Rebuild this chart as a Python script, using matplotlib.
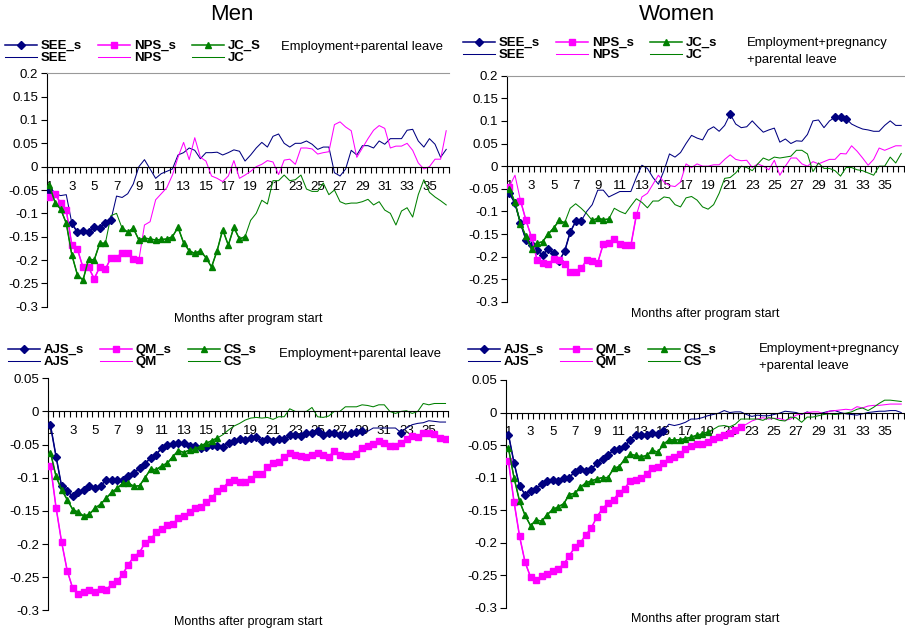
import numpy as np
import matplotlib.pyplot as plt
from matplotlib.ticker import FixedLocator, FuncFormatter

plt.rcParams['font.family'] = ['Liberation Sans', 'DejaVu Sans']

# 72 half-month steps, labelled every second month
n_pts = 72
tick_idx = list(range(0, 69, 4))
tick_lab = [str(m) for m in range(1, 36, 2)]

# ---- Men, employment + parental leave (top) ----
see_m = [-0.053, -0.058, -0.062, -0.060, -0.121, -0.141, -0.137, -0.139, -0.129, -0.131, -0.120, -0.114,
         -0.063, -0.066, -0.058, -0.037, 0.000, 0.015, -0.005, -0.025, -0.015, -0.010, -0.005, 0.025,
         0.030, 0.040, 0.035, 0.017, 0.030, 0.030, 0.031, 0.025, 0.030, 0.036, 0.033, 0.012,
         0.025, 0.040, 0.052, 0.042, 0.065, 0.070, 0.050, 0.042, 0.050, 0.050, 0.055, 0.048,
         0.037, 0.042, 0.042, -0.013, -0.020, -0.005, 0.035, 0.025, 0.045, 0.045, 0.040, 0.055,
         0.048, 0.060, 0.060, 0.060, 0.078, 0.080, 0.055, 0.042, 0.060, 0.048, 0.020, 0.037]
nps_m = [-0.066, -0.059, -0.078, -0.093, -0.168, -0.177, -0.216, -0.216, -0.240, -0.215, -0.220, -0.195,
         -0.195, -0.184, -0.184, -0.198, -0.200, -0.125, -0.118, -0.071, -0.058, -0.045, -0.018, 0.020,
         0.052, 0.015, 0.062, 0.020, 0.012, -0.020, -0.025, -0.032, -0.020, 0.013, -0.025, -0.018,
         -0.010, 0.000, 0.005, 0.013, 0.010, -0.017, 0.014, 0.016, 0.005, 0.040, 0.040, 0.038,
         0.027, 0.030, 0.032, 0.090, 0.096, 0.085, 0.077, 0.020, 0.040, 0.060, 0.078, 0.088,
         0.082, 0.040, 0.044, 0.044, 0.050, 0.035, 0.008, -0.005, 0.000, 0.016, 0.016, 0.077]
jc_m = [-0.040, -0.077, -0.091, -0.121, -0.189, -0.232, -0.243, -0.198, -0.200, -0.164, -0.164, -0.105,
        -0.100, -0.132, -0.140, -0.132, -0.157, -0.153, -0.155, -0.157, -0.156, -0.155, -0.150, -0.130,
        -0.163, -0.180, -0.186, -0.180, -0.195, -0.215, -0.180, -0.135, -0.168, -0.130, -0.155, -0.150,
        -0.115, -0.100, -0.072, -0.080, -0.030, -0.030, -0.018, -0.030, -0.028, -0.018, -0.048, -0.053,
        -0.053, -0.035, -0.060, -0.050, -0.075, -0.080, -0.078, -0.078, -0.075, -0.070, -0.082, -0.075,
        -0.093, -0.100, -0.125, -0.095, -0.088, -0.108, -0.060, -0.028, -0.055, -0.065, -0.073, -0.082]
see_m_sig = [(0, 0), (4, 11)]
nps_m_sig = [(0, 16)]
jc_m_sig = [(0, 10), (13, 35)]

# ---- Women, employment + pregnancy + parental leave (top) ----
see_w = [-0.060, -0.082, -0.126, -0.163, -0.174, -0.186, -0.196, -0.183, -0.192, -0.209, -0.188, -0.146,
         -0.122, -0.121, -0.100, -0.085, -0.053, -0.053, -0.068, -0.062, -0.056, -0.056, -0.056, -0.025,
         0.002, -0.005, -0.025, -0.040, -0.010, 0.027, 0.020, 0.030, 0.050, 0.068, 0.062, 0.058,
         0.080, 0.087, 0.077, 0.090, 0.115, 0.093, 0.085, 0.087, 0.100, 0.087, 0.075, 0.080,
         0.084, 0.053, 0.060, 0.050, 0.056, 0.055, 0.070, 0.100, 0.102, 0.085, 0.100, 0.108,
         0.108, 0.105, 0.093, 0.087, 0.082, 0.080, 0.077, 0.077, 0.090, 0.100, 0.090, 0.090]
nps_w = [-0.045, -0.020, -0.076, -0.120, -0.157, -0.207, -0.213, -0.217, -0.205, -0.208, -0.215, -0.233,
         -0.233, -0.226, -0.207, -0.210, -0.213, -0.172, -0.170, -0.160, -0.172, -0.175, -0.175, -0.108,
         -0.068, -0.060, -0.040, -0.020, -0.035, -0.043, -0.045, -0.035, 0.005, -0.003, 0.005, 0.000,
         0.000, 0.003, 0.003, 0.015, 0.025, 0.015, 0.012, 0.013, -0.003, 0.005, 0.000, -0.008,
         0.013, -0.020, 0.000, 0.018, 0.018, 0.005, 0.000, 0.010, 0.005, 0.010, 0.015, 0.015,
         0.028, 0.027, 0.045, 0.033, 0.018, 0.002, 0.015, 0.040, 0.035, 0.040, 0.045, 0.045]
jc_w = [-0.050, -0.080, -0.127, -0.155, -0.183, -0.170, -0.167, -0.150, -0.137, -0.120, -0.125, -0.093,
        -0.083, -0.093, -0.105, -0.120, -0.115, -0.118, -0.117, -0.093, -0.100, -0.105, -0.088, -0.072,
        -0.080, -0.092, -0.077, -0.077, -0.068, -0.070, -0.085, -0.090, -0.070, -0.067, -0.075, -0.090,
        -0.095, -0.085, -0.060, -0.027, -0.025, -0.015, 0.000, -0.003, -0.010, 0.005, 0.018, 0.013,
        0.020, 0.018, 0.020, 0.022, 0.035, 0.035, 0.027, -0.012, 0.007, -0.005, -0.005, -0.010,
        -0.022, -0.003, -0.003, -0.008, -0.010, -0.015, -0.020, 0.000, 0.000, 0.020, 0.007, 0.028]
see_w_sig = [(0, 13), (40, 40), (59, 61)]
nps_w_sig = [(0, 0), (2, 23)]
jc_w_sig = [(0, 10), (15, 18)]

# ---- Men, employment + parental leave (bottom) ----
ajs_m = [-0.021, -0.068, -0.113, -0.120, -0.128, -0.122, -0.118, -0.112, -0.116, -0.112, -0.104, -0.104,
         -0.104, -0.104, -0.098, -0.093, -0.085, -0.079, -0.070, -0.065, -0.055, -0.050, -0.049, -0.047,
         -0.048, -0.052, -0.052, -0.055, -0.053, -0.050, -0.052, -0.054, -0.047, -0.045, -0.041, -0.043,
         -0.040, -0.038, -0.045, -0.042, -0.045, -0.042, -0.042, -0.036, -0.036, -0.037, -0.032, -0.033,
         -0.030, -0.035, -0.033, -0.033, -0.035, -0.035, -0.033, -0.031, -0.030, -0.030, -0.025, -0.025,
         -0.025, -0.025, -0.025, -0.032, -0.025, -0.020, -0.018, -0.017, -0.014, -0.015, -0.016, -0.016]
qm_m = [-0.082, -0.145, -0.197, -0.240, -0.267, -0.275, -0.272, -0.270, -0.272, -0.268, -0.270, -0.260,
        -0.256, -0.245, -0.231, -0.219, -0.213, -0.198, -0.193, -0.182, -0.178, -0.172, -0.170, -0.160,
        -0.157, -0.152, -0.146, -0.144, -0.137, -0.130, -0.120, -0.116, -0.106, -0.104, -0.106, -0.106,
        -0.102, -0.095, -0.095, -0.084, -0.078, -0.077, -0.068, -0.063, -0.065, -0.067, -0.068, -0.066,
        -0.063, -0.065, -0.068, -0.060, -0.065, -0.067, -0.067, -0.064, -0.055, -0.052, -0.049, -0.044,
        -0.047, -0.052, -0.052, -0.048, -0.042, -0.037, -0.038, -0.032, -0.033, -0.034, -0.040, -0.041]
cs_m = [-0.062, -0.098, -0.118, -0.133, -0.148, -0.152, -0.158, -0.155, -0.146, -0.140, -0.131, -0.122,
        -0.116, -0.108, -0.108, -0.113, -0.112, -0.100, -0.087, -0.088, -0.082, -0.078, -0.068, -0.059,
        -0.062, -0.058, -0.057, -0.052, -0.048, -0.044, -0.040, -0.035, -0.028, -0.022, -0.018, -0.013,
        -0.010, -0.009, -0.010, -0.009, -0.012, -0.008, -0.008, 0.004, 0.000, 0.000, 0.000, 0.006,
        -0.008, -0.009, -0.007, 0.000, 0.000, 0.007, 0.007, 0.007, 0.010, 0.009, 0.007, 0.010,
        0.010, 0.000, -0.003, 0.000, 0.001, -0.003, 0.000, 0.012, 0.010, 0.012, 0.012, 0.012]
ajs_m_sig = [(0, 56), (63, 63)]
qm_m_sig = [(0, 71)]
cs_m_sig = [(0, 30)]

# ---- Women, employment + pregnancy + parental leave (bottom) ----
ajs_w = [-0.034, -0.077, -0.113, -0.126, -0.120, -0.117, -0.110, -0.105, -0.103, -0.106, -0.100, -0.100,
         -0.091, -0.087, -0.090, -0.087, -0.078, -0.071, -0.066, -0.057, -0.056, -0.052, -0.042, -0.035,
         -0.034, -0.034, -0.032, -0.033, -0.028, -0.018, -0.020, -0.018, -0.015, -0.010, -0.010, -0.008,
         -0.005, -0.003, -0.001, 0.003, 0.000, 0.001, 0.001, -0.003, -0.006, -0.004, -0.005, -0.005,
         -0.003, -0.001, 0.002, 0.001, 0.000, -0.003, 0.001, -0.002, -0.002, 0.000, 0.002, 0.003,
         0.000, -0.002, -0.003, -0.004, -0.002, 0.000, 0.001, 0.002, 0.002, 0.003, 0.003, 0.000]
qm_w = [-0.075, -0.137, -0.190, -0.230, -0.253, -0.258, -0.252, -0.248, -0.244, -0.240, -0.233, -0.220,
        -0.207, -0.200, -0.188, -0.177, -0.160, -0.148, -0.139, -0.134, -0.123, -0.117, -0.105, -0.103,
        -0.100, -0.094, -0.085, -0.083, -0.077, -0.071, -0.068, -0.063, -0.056, -0.052, -0.049, -0.048,
        -0.046, -0.041, -0.037, -0.035, -0.031, -0.027, -0.022, -0.018, -0.013, -0.010, -0.008, -0.010,
        -0.009, -0.009, -0.012, -0.010, -0.004, -0.002, 0.000, 0.001, 0.001, -0.002, 0.002, 0.003,
        0.004, 0.005, 0.004, 0.009, 0.007, 0.010, 0.011, 0.011, 0.012, 0.013, 0.013, 0.013]
cs_w = [-0.055, -0.100, -0.136, -0.158, -0.174, -0.165, -0.167, -0.157, -0.149, -0.145, -0.140, -0.126,
        -0.124, -0.115, -0.108, -0.105, -0.102, -0.100, -0.100, -0.086, -0.083, -0.072, -0.064, -0.066,
        -0.068, -0.066, -0.058, -0.061, -0.049, -0.042, -0.042, -0.042, -0.040, -0.038, -0.035, -0.033,
        -0.030, -0.026, -0.021, -0.020, -0.022, -0.018, -0.010, -0.010, -0.010, -0.010, -0.012, -0.008,
        -0.009, -0.012, -0.013, -0.007, -0.008, -0.015, -0.007, -0.007, -0.005, -0.003, -0.002, -0.003,
        -0.002, -0.001, 0.001, 0.005, 0.007, 0.003, 0.008, 0.014, 0.019, 0.019, 0.018, 0.017]
ajs_w_sig = [(0, 28)]
qm_w_sig = [(0, 42)]
cs_w_sig = [(0, 36)]

NAVY, MAG, GRN = '#000080', '#ff00ff', '#008000'
styles = [(NAVY, 'D', 3.8), (MAG, 's', 5), (GRN, '^', 5)]


def significant(vals, ranges):
    out = np.full(n_pts, np.nan)
    v = np.array(vals)
    for a, b in ranges:
        out[a:b + 1] = v[a:b + 1]
    return out


def fmt_y(v, pos):
    v = round(v, 2)
    if abs(v) < 1e-9:
        return '0'
    return '{:g}'.format(v)


def panel(ax, series, names, top_line):
    x = np.arange(n_pts)
    handles, labels = [], []
    for (vals, rng), (nm, nm_s), (col, mk, ms) in zip(series, names, styles):
        h1, = ax.plot(x, significant(vals, rng), color=col, lw=1.1, marker=mk, ms=ms,
                      mec=col, mfc=col, zorder=3)
        h2, = ax.plot(x, vals, color=col, lw=0.75, zorder=2)
        handles += [h1, h2]
        labels += [nm_s, nm]
    ax.set_xlim(-0.5, n_pts - 0.5)
    ax.set_ylim(-0.3, top_line)
    ax.spines['right'].set_visible(False)
    ax.spines['bottom'].set_position(('data', 0))
    if top_line > 0.1:
        ax.spines['top'].set_color('#999999')
    else:
        ax.spines['top'].set_visible(False)
    ax.xaxis.set_major_locator(FixedLocator(tick_idx))
    ax.set_xticklabels(tick_lab)
    ax.xaxis.set_minor_locator(FixedLocator(np.arange(-0.5, n_pts, 1.0)))
    ax.tick_params(axis='x', which='major', length=0, pad=10, labelsize=9.5)
    ax.tick_params(axis='x', which='minor', length=4, direction='out', width=0.8)
    ax.set_yticks(np.round(np.arange(-0.3, top_line + 0.001, 0.05), 2))
    ax.yaxis.set_major_formatter(FuncFormatter(fmt_y))
    ax.tick_params(axis='y', length=4, width=0.8, labelsize=9.5, pad=2)
    ax.text(0.5, -0.025, 'Months after program start', transform=ax.transAxes,
            ha='center', va='top', fontsize=9)
    return handles, labels


fig = plt.figure(figsize=(9.05, 6.34), dpi=100)
W, H = 905.0, 634.0


def add_axes(x0, x1, y_top, y_bot):
    return fig.add_axes([x0 / W, 1 - y_bot / H, (x1 - x0) / W, (y_bot - y_top) / H])


ax_tl = add_axes(46.7, 449, 73.3, 306.7)
ax_tr = add_axes(506.7, 904, 75.6, 302)
ax_bl = add_axes(47.7, 448.3, 378.3, 610.3)
ax_br = add_axes(505.7, 904, 380, 607.7)

top_names_m = [('SEE', 'SEE_s'), ('NPS', 'NPS_s'), ('JC', 'JC_S')]
top_names_w = [('SEE', 'SEE_s'), ('NPS', 'NPS_s'), ('JC', 'JC_s')]
bot_names = [('AJS', 'AJS_s'), ('QM', 'QM_s'), ('CS', 'CS_s')]

panels = [
    (ax_tl, [(see_m, see_m_sig), (nps_m, nps_m_sig), (jc_m, jc_m_sig)], top_names_m, 0.2, (5, 40)),
    (ax_tr, [(see_w, see_w_sig), (nps_w, nps_w_sig), (jc_w, jc_w_sig)], top_names_w, 0.2, (463, 37)),
    (ax_bl, [(ajs_m, ajs_m_sig), (qm_m, qm_m_sig), (cs_m, cs_m_sig)], bot_names, 0.05, (8, 344)),
    (ax_br, [(ajs_w, ajs_w_sig), (qm_w, qm_w_sig), (cs_w, cs_w_sig)], bot_names, 0.05, (468, 344)),
]

for ax, series, names, top, (lx, ly) in panels:
    hs, ls = panel(ax, series, names, top)
    fig.legend(hs, ls, loc='upper left', bbox_to_anchor=(lx / W, 1 - ly / H), ncol=3,
               frameon=False, borderpad=0, borderaxespad=0, handlelength=2.4,
               handletextpad=0.3, columnspacing=1.25, labelspacing=0.0,
               prop={'weight': 'bold', 'size': 9.5})

fig.text(281 / W, 1 - 47 / H, 'Employment+parental leave', fontsize=9.4, va='center')
fig.text(747 / W, 1 - 43 / H, 'Employment+pregnancy', fontsize=9.4, va='center')
fig.text(747 / W, 1 - 60 / H, '+parental leave', fontsize=9.4, va='center')
fig.text(279 / W, 1 - 354 / H, 'Employment+parental leave', fontsize=9.4, va='center')
fig.text(759 / W, 1 - 349 / H, 'Employment+pregnancy', fontsize=9.4, va='center')
fig.text(759 / W, 1 - 366 / H, '+parental leave', fontsize=9.4, va='center')

fig.text(232 / W, 1 - 15 / H, 'Men', fontsize=16, ha='center', va='center')
fig.text(677 / W, 1 - 15 / H, 'Women', fontsize=16, ha='center', va='center')

fig.savefig('out.png', dpi=100)
